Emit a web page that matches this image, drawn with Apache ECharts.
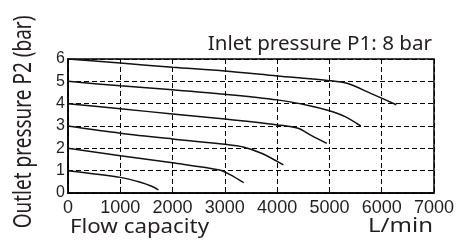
<html>
<head>
<meta charset="utf-8">
<title>Flow characteristics</title>
<style>
  html, body { margin: 0; padding: 0; background: #fff; }
  #chart { width: 457px; height: 244px; }
</style>
</head>
<body>
<div id="chart"></div>
<script src="https://cdn.jsdelivr.net/npm/echarts@6/dist/echarts.min.js"></script>
<script>
// flow (L/min), outlet pressure (bar)
var curve6 = [[0, 6], [1000, 5.82], [2000, 5.63], [3000, 5.46], [4000, 5.24], [5000, 5.03], [5350, 4.9], [5800, 4.45], [6280, 3.95]];
var curve5 = [[0, 5], [1000, 4.8], [2000, 4.62], [3000, 4.42], [4000, 4.17], [4600, 3.92], [5000, 3.68], [5300, 3.42], [5600, 3.0]];
var curve4 = [[0, 4], [1000, 3.77], [2000, 3.54], [3000, 3.31], [4000, 3.05], [4400, 2.9], [4650, 2.58], [4950, 2.22]];
var curve3 = [[0, 3], [1000, 2.68], [2000, 2.42], [3000, 2.18], [3350, 2.06], [3700, 1.78], [4120, 1.26]];
var curve2 = [[0, 2], [1000, 1.67], [2000, 1.35], [2900, 1.03], [3100, 0.82], [3360, 0.46]];
var curve1 = [[0, 1], [1000, 0.7], [1400, 0.47], [1600, 0.3], [1730, 0.14]];
var curves = [curve1, curve2, curve3, curve4, curve5, curve6];

var chart = echarts.init(document.getElementById('chart'));

var dash = { color: '#000', type: [5, 3], width: 1 };
var ink = '#231f20';

chart.setOption({
  animation: false,
  grid: { left: 68, right: 23, top: 59, bottom: 51, show: true, borderColor: '#000', borderWidth: 1.5 },
  xAxis: {
    type: 'value', min: 0, max: 7000, interval: 1000,
    axisLine: { lineStyle: { color: '#000', width: 1.5 } },
    axisTick: { show: false },
    splitLine: { show: true, lineStyle: dash },
    axisLabel: { color: ink, fontSize: 18, fontFamily: 'Liberation Sans', margin: 6,
      formatter: function (v) { return String(v); } }
  },
  yAxis: {
    type: 'value', min: 0, max: 6, interval: 1,
    axisLine: { show: true, lineStyle: { color: '#000', width: 1.5 } },
    axisTick: { show: false },
    splitLine: { show: true, lineStyle: dash },
    axisLabel: { color: ink, fontSize: 16, fontFamily: 'Liberation Sans', margin: 3 }
  },
  graphic: [
    { type: 'text', x: 432, y: 44, style: { text: 'Inlet pressure P1: 8 bar', font: '20.6px "Noto Sans"', fill: ink, align: 'right', verticalAlign: 'middle' } },
    { type: 'text', x: 70, y: 227, scaleY: 0.88, style: { text: 'Flow capacity', font: '22.3px "Noto Sans"', fill: ink, align: 'left', verticalAlign: 'middle' } },
    { type: 'text', x: 433, y: 227, scaleY: 0.8, style: { text: 'L/min', font: '24px "Noto Sans"', fill: ink, align: 'right', verticalAlign: 'middle' } },
    { type: 'text', x: 24, y: 122, rotation: Math.PI / 2, scaleY: 1.3,
      style: { text: 'Outlet pressure P2 (bar)', font: '19px "Noto Sans"', fill: ink, align: 'center', verticalAlign: 'middle' } }
  ],
  series: curves.map(function (c) {
    return {
      type: 'line', data: c, smooth: 0.3, symbol: 'none',
      lineStyle: { color: '#111', width: 1.5 }
    };
  })
});
</script>
</body>
</html>
